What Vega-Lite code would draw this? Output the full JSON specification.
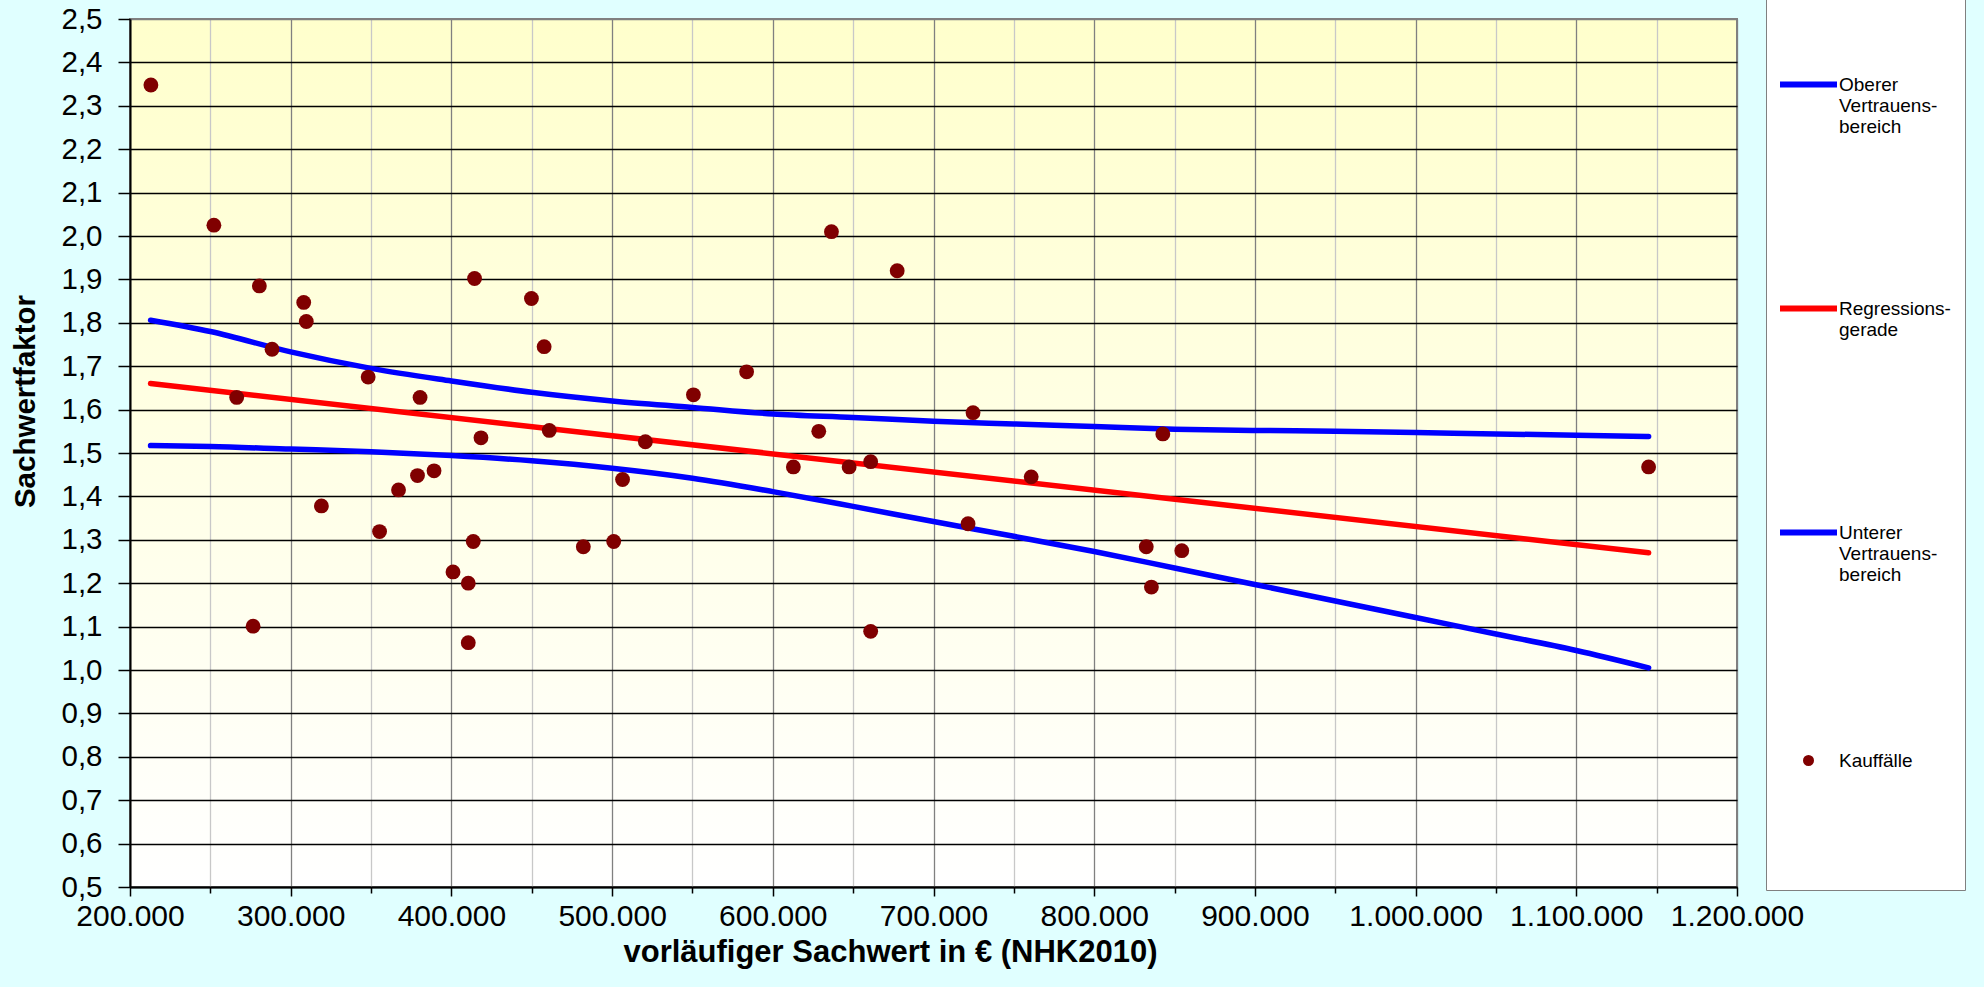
{
  "$schema": "https://vega.github.io/schema/vega-lite/v6.json",
  "width": 1607,
  "height": 868,
  "autosize": {"type": "none"},
  "padding": {"left": 130, "top": 19, "right": 247, "bottom": 100},
  "background": "#e0ffff",
  "config": {
    "font": "Liberation Sans",
    "view": {
      "fill": {"gradient": "linear", "x1": 0, "y1": 0, "x2": 0, "y2": 1, "stops": [{"offset": 0, "color": "#ffffcc"}, {"offset": 1, "color": "#ffffff"}]},
      "stroke": "#808080",
      "strokeWidth": 2
    }
  },
  "datasets": {
    "kauf": [
      {"x": 213000, "y": 2.348}, {"x": 252200, "y": 2.025}, {"x": 280500, "y": 1.885}, {"x": 308100, "y": 1.847},
      {"x": 309700, "y": 1.803}, {"x": 288400, "y": 1.739}, {"x": 266400, "y": 1.628}, {"x": 276600, "y": 1.101},
      {"x": 319100, "y": 1.378}, {"x": 348200, "y": 1.675}, {"x": 355300, "y": 1.319}, {"x": 367100, "y": 1.415},
      {"x": 378900, "y": 1.448}, {"x": 380500, "y": 1.628}, {"x": 389200, "y": 1.459}, {"x": 414400, "y": 1.902},
      {"x": 401000, "y": 1.226}, {"x": 410500, "y": 1.2}, {"x": 410500, "y": 1.063}, {"x": 413600, "y": 1.296},
      {"x": 418400, "y": 1.535}, {"x": 449800, "y": 1.856}, {"x": 457700, "y": 1.745}, {"x": 460900, "y": 1.552},
      {"x": 482100, "y": 1.284}, {"x": 501000, "y": 1.296}, {"x": 506500, "y": 1.439}, {"x": 520700, "y": 1.526},
      {"x": 550600, "y": 1.634}, {"x": 583700, "y": 1.687}, {"x": 612800, "y": 1.468}, {"x": 628600, "y": 1.55},
      {"x": 636500, "y": 2.01}, {"x": 647500, "y": 1.468}, {"x": 660900, "y": 1.48}, {"x": 660900, "y": 1.089},
      {"x": 677400, "y": 1.92}, {"x": 721500, "y": 1.337}, {"x": 724600, "y": 1.593}, {"x": 760800, "y": 1.445},
      {"x": 832400, "y": 1.284}, {"x": 835600, "y": 1.191}, {"x": 842700, "y": 1.544}, {"x": 854500, "y": 1.275},
      {"x": 1145000, "y": 1.468}
    ],
    "linien": [
      {"serie": "Oberer Vertrauensbereich", "x": 212800, "y": 1.806},
      {"serie": "Oberer Vertrauensbereich", "x": 250000, "y": 1.78},
      {"serie": "Oberer Vertrauensbereich", "x": 300000, "y": 1.733},
      {"serie": "Oberer Vertrauensbereich", "x": 350000, "y": 1.695},
      {"serie": "Oberer Vertrauensbereich", "x": 400000, "y": 1.666},
      {"serie": "Oberer Vertrauensbereich", "x": 450000, "y": 1.64},
      {"serie": "Oberer Vertrauensbereich", "x": 500000, "y": 1.62},
      {"serie": "Oberer Vertrauensbereich", "x": 550000, "y": 1.605},
      {"serie": "Oberer Vertrauensbereich", "x": 600000, "y": 1.59},
      {"serie": "Oberer Vertrauensbereich", "x": 650000, "y": 1.582},
      {"serie": "Oberer Vertrauensbereich", "x": 700000, "y": 1.573},
      {"serie": "Oberer Vertrauensbereich", "x": 750000, "y": 1.567},
      {"serie": "Oberer Vertrauensbereich", "x": 800000, "y": 1.561},
      {"serie": "Oberer Vertrauensbereich", "x": 850000, "y": 1.555},
      {"serie": "Oberer Vertrauensbereich", "x": 900000, "y": 1.552},
      {"serie": "Oberer Vertrauensbereich", "x": 950000, "y": 1.55},
      {"serie": "Oberer Vertrauensbereich", "x": 1000000, "y": 1.547},
      {"serie": "Oberer Vertrauensbereich", "x": 1050000, "y": 1.544},
      {"serie": "Oberer Vertrauensbereich", "x": 1100000, "y": 1.541},
      {"serie": "Oberer Vertrauensbereich", "x": 1145000, "y": 1.538},
      {"serie": "Regressionsgerade", "x": 212800, "y": 1.66},
      {"serie": "Regressionsgerade", "x": 1145000, "y": 1.27},
      {"serie": "Unterer Vertrauensbereich", "x": 212800, "y": 1.517},
      {"serie": "Unterer Vertrauensbereich", "x": 250000, "y": 1.515},
      {"serie": "Unterer Vertrauensbereich", "x": 300000, "y": 1.509},
      {"serie": "Unterer Vertrauensbereich", "x": 350000, "y": 1.503},
      {"serie": "Unterer Vertrauensbereich", "x": 400000, "y": 1.494},
      {"serie": "Unterer Vertrauensbereich", "x": 450000, "y": 1.482},
      {"serie": "Unterer Vertrauensbereich", "x": 500000, "y": 1.465},
      {"serie": "Unterer Vertrauensbereich", "x": 550000, "y": 1.442},
      {"serie": "Unterer Vertrauensbereich", "x": 600000, "y": 1.411},
      {"serie": "Unterer Vertrauensbereich", "x": 650000, "y": 1.377},
      {"serie": "Unterer Vertrauensbereich", "x": 700000, "y": 1.342},
      {"serie": "Unterer Vertrauensbereich", "x": 750000, "y": 1.308},
      {"serie": "Unterer Vertrauensbereich", "x": 800000, "y": 1.273},
      {"serie": "Unterer Vertrauensbereich", "x": 850000, "y": 1.235},
      {"serie": "Unterer Vertrauensbereich", "x": 900000, "y": 1.197},
      {"serie": "Unterer Vertrauensbereich", "x": 950000, "y": 1.159},
      {"serie": "Unterer Vertrauensbereich", "x": 1000000, "y": 1.121},
      {"serie": "Unterer Vertrauensbereich", "x": 1050000, "y": 1.083},
      {"serie": "Unterer Vertrauensbereich", "x": 1100000, "y": 1.045},
      {"serie": "Unterer Vertrauensbereich", "x": 1145000, "y": 1.005}
    ]
  },
  "layer": [
    {
      "data": {"name": "linien"},
      "mark": {"type": "line", "strokeWidth": 5.5, "interpolate": "monotone", "strokeCap": "round"},
      "encoding": {
        "x": {
          "field": "x", "type": "quantitative",
          "scale": {"domain": [200000, 1200000], "nice": false, "zero": false},
          "axis": {
            "values": [200000, 250000, 300000, 350000, 400000, 450000, 500000, 550000, 600000, 650000, 700000, 750000, 800000, 850000, 900000, 950000, 1000000, 1050000, 1100000, 1150000, 1200000],
            "labelExpr": "datum.value % 100000 === 0 ? replace(format(datum.value, ',.0f'), regexp(',', 'g'), '.') : ''",
            "labelFont": "Liberation Sans", "labelFontSize": 30, "labelColor": "black",
            "labelPadding": 5, "labelOverlap": false, "labelFlush": false, "labelBound": false,
            "tickSize": {"condition": {"test": "datum.value % 100000 === 0", "value": 9}, "value": 6},
            "tickColor": "black", "tickWidth": 1.5,
            "domainColor": "black", "domainWidth": 2,
            "grid": true,
            "gridColor": {"condition": {"test": "datum.value % 100000 === 0", "value": "#808080"}, "value": "#c8c8c8"},
            "gridWidth": 1.3,
            "title": "vorläufiger Sachwert in € (NHK2010)",
            "titleFont": "Liberation Sans", "titleFontSize": 31, "titleFontWeight": "bold", "titleColor": "black",
            "titleX": 760, "titleY": 65, "titleBaseline": "middle", "titleAlign": "center"
          }
        },
        "y": {
          "field": "y", "type": "quantitative",
          "scale": {"domain": [0.5, 2.5], "nice": false, "zero": false},
          "axis": {
            "values": [0.5, 0.55, 0.6, 0.65, 0.7, 0.75, 0.8, 0.85, 0.9, 0.95, 1.0, 1.05, 1.1, 1.15, 1.2, 1.25, 1.3, 1.35, 1.4, 1.45, 1.5, 1.55, 1.6, 1.65, 1.7, 1.75, 1.8, 1.85, 1.9, 1.95, 2.0, 2.05, 2.1, 2.15, 2.2, 2.25, 2.3, 2.35, 2.4, 2.45, 2.5],
            "labelExpr": "round(datum.value * 100) % 10 === 0 ? replace(format(datum.value, '.1f'), '.', ',') : ''",
            "labelFont": "Liberation Sans", "labelFontSize": 29.5, "labelColor": "black",
            "labelPadding": 16, "labelOverlap": false, "labelFlush": false, "labelBound": false,
            "tickSize": {"condition": {"test": "round(datum.value * 100) % 10 === 0", "value": 12}, "value": 7},
            "tickColor": "black", "tickWidth": 1.5,
            "domainColor": "black", "domainWidth": 2,
            "grid": true,
            "gridColor": {"condition": [{"test": "datum.value > 2.49", "value": "#808080"}, {"test": "round(datum.value * 100) % 10 === 0", "value": "#000000"}], "value": "#c8c8c8"},
            "gridWidth": 1.3,
            "title": "Sachwertfaktor",
            "titleFont": "Liberation Sans", "titleFontSize": 29.5, "titleFontWeight": "bold", "titleColor": "black",
            "titleX": -105, "titleY": 382, "titleBaseline": "middle", "titleAlign": "center", "titleAngle": -90
          }
        },
        "color": {
          "field": "serie", "type": "nominal",
          "scale": {
            "domain": ["Oberer Vertrauensbereich", "Regressionsgerade", "Unterer Vertrauensbereich", "Kauffälle"],
            "range": ["#0000ff", "#ff0000", "#0000ff", "#800000"]
          },
          "legend": {
            "orient": "none", "legendX": 1636, "legendY": -52,
            "direction": "vertical",
            "title": " ", "titleFontSize": 10, "titlePadding": 62,
            "fillColor": "#ffffff", "strokeColor": "#808080",
            "padding": 14,
            "symbolOffset": -3, "symbolStrokeWidth": 6, "symbolOpacity": 1,
            "labelOffset": -1, "rowPadding": 140,
            "labelFont": "Liberation Sans", "labelFontSize": 19, "labelColor": "black",
            "labelBaseline": "middle", "labelLimit": 400,
            "labelExpr": "datum.label === 'Oberer Vertrauensbereich' ? ['Oberer', 'Vertrauens-', 'bereich'] : datum.label === 'Regressionsgerade' ? ['Regressions-\u00a0\u00a0\u00a0\u00a0\u00a0', 'gerade', '\u00a0'] : datum.label === 'Unterer Vertrauensbereich' ? ['Unterer', 'Vertrauens-', 'bereich', '\u00a0'] : ['Kauffälle', '\u00a0', '\u00a0', '\u00a0', '\u00a0', '\u00a0']"
          }
        }
      }
    },
    {
      "data": {"name": "kauf"},
      "mark": {"type": "point", "filled": true, "opacity": 1, "size": 220, "shape": "circle"},
      "encoding": {
        "x": {"field": "x", "type": "quantitative"},
        "y": {"field": "y", "type": "quantitative"},
        "color": {"datum": "Kauffälle"}
      }
    },
    {
      "data": {"values": []},
      "mark": {"type": "point", "filled": false, "opacity": 1},
      "encoding": {
        "x": {"field": "x", "type": "quantitative"},
        "y": {"field": "y", "type": "quantitative"},
        "color": {"field": "serie", "type": "nominal"},
        "shape": {
          "field": "serie", "type": "nominal",
          "scale": {
            "domain": ["Oberer Vertrauensbereich", "Regressionsgerade", "Unterer Vertrauensbereich", "Kauffälle"],
            "range": ["stroke", "stroke", "stroke", "circle"]
          }
        },
        "size": {
          "field": "serie", "type": "nominal",
          "scale": {
            "type": "ordinal",
            "domain": ["Oberer Vertrauensbereich", "Regressionsgerade", "Unterer Vertrauensbereich", "Kauffälle"],
            "range": [3249, 3249, 3249, 25]
          }
        }
      }
    }
  ]
}
